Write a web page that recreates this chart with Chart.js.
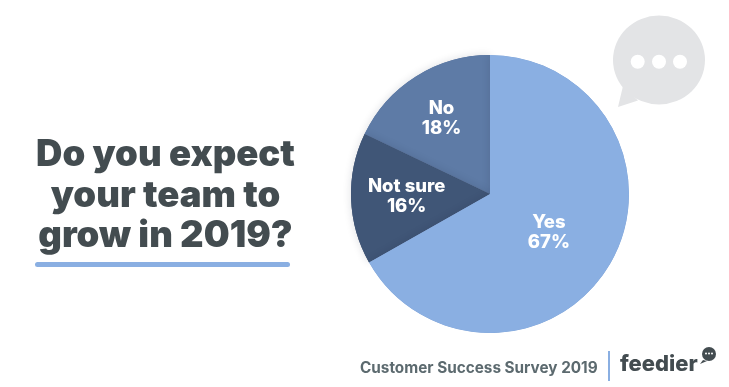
<!DOCTYPE html>
<html>
<head>
<meta charset="utf-8">
<script src="https://cdn.jsdelivr.net/npm/chart.js@4/dist/chart.umd.min.js"></script>
<style>
  html, body { margin: 0; padding: 0; background: #fff; }
  #wrap { position: relative; width: 729px; height: 387px; overflow: hidden; font-family: Inter, sans-serif; }
  canvas { position: absolute; left: 0; top: 0; }
  .abs { position: absolute; white-space: nowrap; }
  #title { left: 0; top: 133px; width: 331px; text-align: center; font-size: 36.5px; line-height: 40.5px; font-weight: 900; color: #434c50; }
  #rule { left: 35px; top: 262px; width: 255px; height: 5px; border-radius: 3px; background: #8aafe2; }
  #survey { left: 360px; top: 358px; font-size: 15.3px; font-weight: 700; color: #5c6a6f; }
  #divider { left: 608px; top: 351px; width: 2px; height: 30px; background: #8aafe2; }
  #brand { left: 620px; top: 350px; font-size: 22px; font-weight: 800; color: #434c50; }
  svg { position: absolute; left: 0; top: 0; }
</style>
</head>
<body>
<div id="wrap">
  <canvas id="pie" width="729" height="387"></canvas>
  <svg width="729" height="387">
    <path d="M623 86 L618 107 L638 100.5 Z" fill="#e3e4e6"/>
    <ellipse cx="659" cy="60" rx="46" ry="44.5" fill="#e3e4e6"/>
    <circle cx="637.7" cy="61.7" r="7" fill="#fff"/>
    <circle cx="659" cy="61.7" r="7" fill="#fff"/>
    <circle cx="680" cy="61.7" r="7" fill="#fff"/>
    <path d="M703 360 L700 364 L707 361 Z" fill="#434c50"/>
    <circle cx="709" cy="354" r="7" fill="#434c50"/>
    <circle cx="706" cy="353.5" r="1" fill="#fff"/>
    <circle cx="709" cy="353.5" r="1" fill="#fff"/>
    <circle cx="712" cy="353.5" r="1" fill="#fff"/>
  </svg>
  <div id="title" class="abs">Do you expect<br>your team to<br>grow in 2019?</div>
  <div id="rule" class="abs"></div>
  <div id="survey" class="abs">Customer Success Survey 2019</div>
  <div id="divider" class="abs"></div>
  <div id="brand" class="abs">feedier</div>
</div>
<script>
const answers = ['Yes', 'Not sure', 'No'];
const shares = [66.8, 15.3, 17.9];
const shareLabels = ['67%', '16%', '18%'];
const sliceColors = ['#8aafe2', '#405677', '#5e7ba6'];

// labels sit inside each slice, two lines, at a per-slice distance from the centre
const labelReach = [0.49, 0.60, 0.655];
const labelDrop = [4, 0, 1];

const sliceLabels = {
  id: 'sliceLabels',
  afterDatasetsDraw(chart) {
    const { ctx } = chart;
    const arcs = chart.getDatasetMeta(0).data;

    // soft shadow where the slices overlap, redrawn back to front
    ctx.save();
    ctx.shadowColor = 'rgba(20, 30, 50, 0.14)';
    ctx.shadowBlur = 8;
    arcs[2].draw(ctx);
    arcs[1].draw(ctx);
    ctx.beginPath();
    ctx.arc(arcs[0].x, arcs[0].y, arcs[0].outerRadius, 0, Math.PI * 2);
    ctx.clip();
    arcs[0].draw(ctx);
    ctx.restore();

    ctx.save();
    ctx.fillStyle = '#fff';
    ctx.textAlign = 'center';
    ctx.textBaseline = 'middle';
    ctx.font = '800 18.5px Inter, sans-serif';
    arcs.forEach((arc, i) => {
      const mid = (arc.startAngle + arc.endAngle) / 2;
      const x = arc.x + Math.cos(mid) * arc.outerRadius * labelReach[i];
      const y = arc.y + Math.sin(mid) * arc.outerRadius * labelReach[i] + labelDrop[i];
      ctx.fillText(answers[i], x, y - 10);
      ctx.fillText(shareLabels[i], x, y + 10);
    });
    ctx.restore();
  },
};

new Chart(document.getElementById('pie'), {
  type: 'pie',
  data: {
    labels: answers,
    datasets: [{ data: shares, backgroundColor: sliceColors, borderWidth: 0 }],
  },
  options: {
    responsive: false,
    animation: false,
    layout: { padding: { left: 351, right: 100, top: 55, bottom: 54 } },
    plugins: { legend: { display: false }, tooltip: { enabled: false } },
  },
  plugins: [sliceLabels],
});
</script>
</body>
</html>
